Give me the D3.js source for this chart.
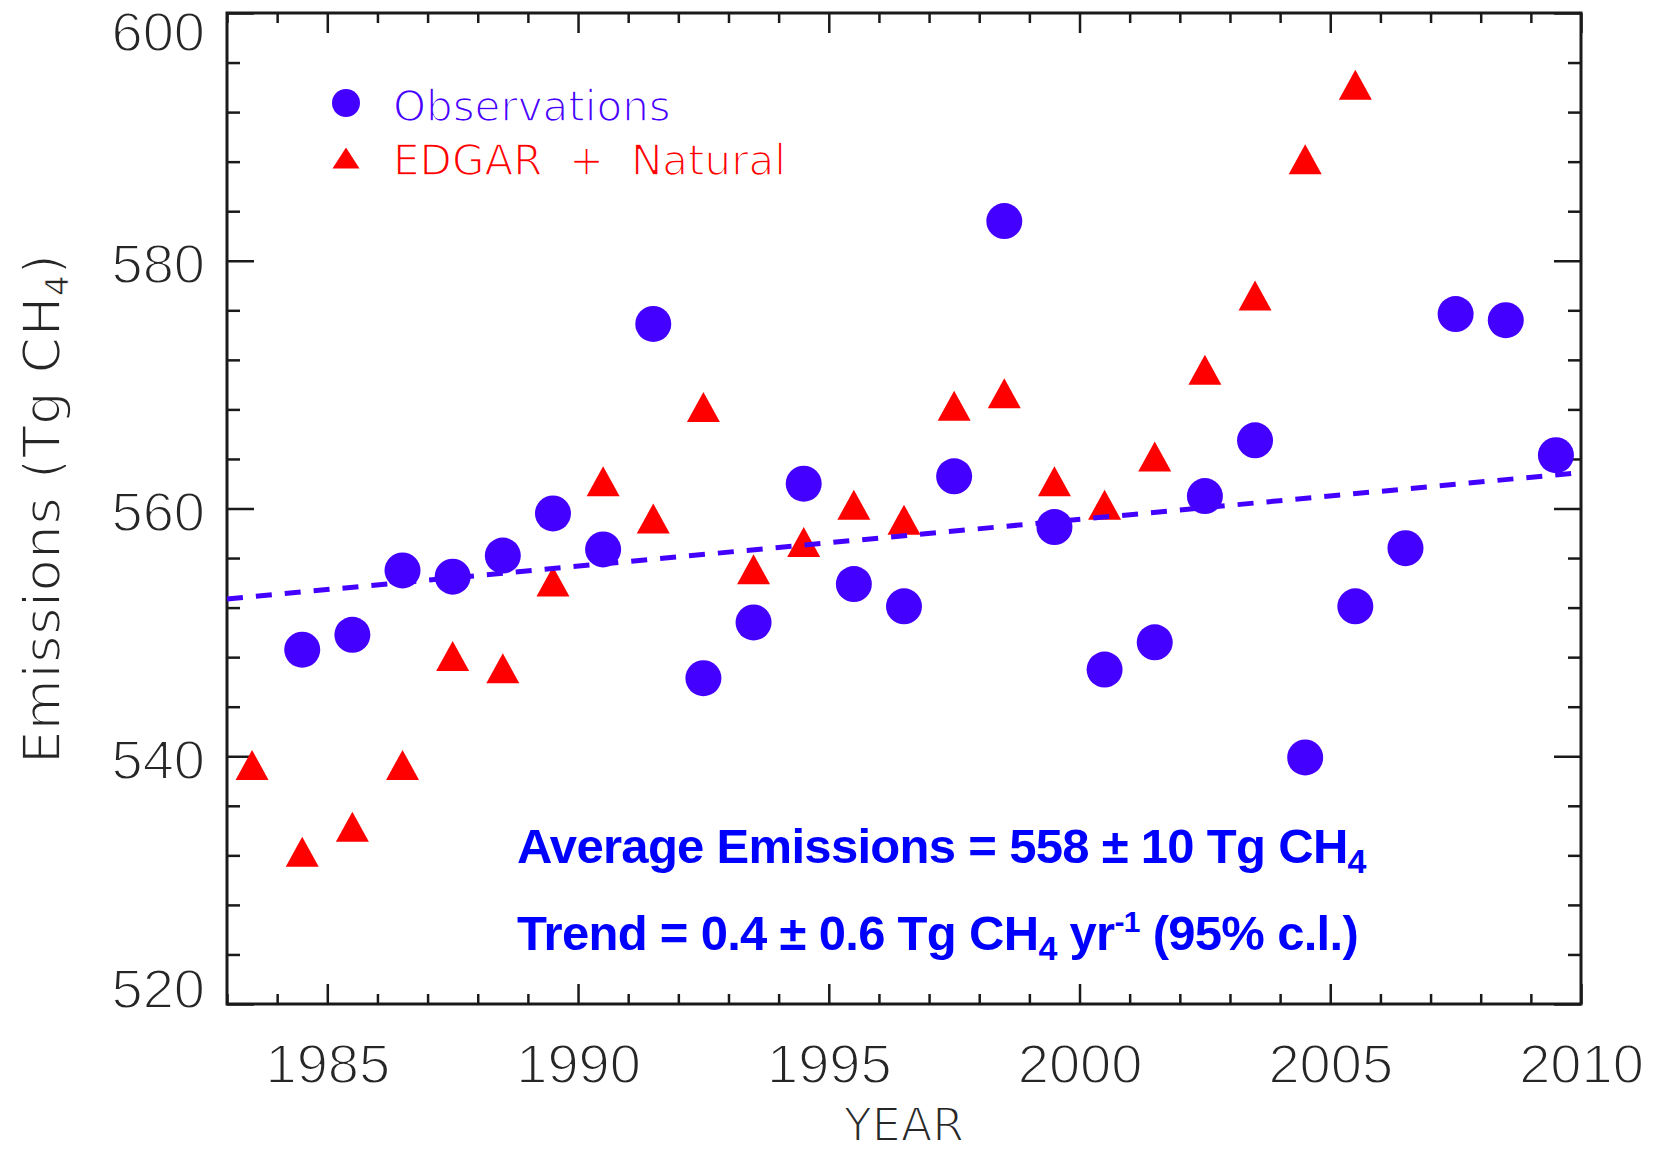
<!DOCTYPE html>
<html>
<head>
<meta charset="utf-8">
<script src="https://cdn.jsdelivr.net/npm/d3@7"></script>
<style>
  html, body { margin: 0; padding: 0; background: #fff; }
  svg { display: block; }
</style>
</head>
<body>
<svg id="chart" width="1658" height="1153"></svg>
<script>
// Annual methane emissions: inversion of observations vs EDGAR + natural sources
const obsYears = [1984.5, 1985.5, 1986.5, 1987.5, 1988.5, 1989.5, 1990.5, 1991.5, 1992.5,
                  1993.5, 1994.5, 1995.5, 1996.5, 1997.5, 1998.5, 1999.5, 2000.5, 2001.5,
                  2002.5, 2003.5, 2004.5, 2005.5, 2006.5, 2007.5, 2008.5, 2009.5];
const obsValues = [548.6, 549.8, 555.0, 554.5, 556.2, 559.6, 556.7, 574.9, 546.3,
                   550.8, 562.0, 553.9, 552.1, 562.6, 583.2, 558.5, 547.0, 549.2,
                   561.0, 565.5, 539.9, 552.1, 556.8, 575.7, 575.2, 564.3];

const edgarYears = [1983.5, 1984.5, 1985.5, 1986.5, 1987.5, 1988.5, 1989.5, 1990.5, 1991.5,
                    1992.5, 1993.5, 1994.5, 1995.5, 1996.5, 1997.5, 1998.5, 1999.5, 2000.5,
                    2001.5, 2002.5, 2003.5, 2004.5, 2005.5];
const edgarValues = [539.3, 532.3, 534.3, 539.3, 548.1, 547.1, 554.1, 562.2, 559.2,
                     568.2, 555.1, 557.3, 560.3, 559.1, 568.3, 569.3, 562.2, 560.3,
                     564.2, 571.2, 577.2, 588.2, 594.2];

// Linear trend of the observations (end points)
const trendYears = [1983, 2010];
const trendValues = [552.7, 562.9];

const xMajorTicks = [1985, 1990, 1995, 2000, 2005, 2010];
const yMajorTicks = [520, 540, 560, 580, 600];

const seriesNames = ["Observations", "EDGAR + Natural"];

const OBS_COLOR = "#4400ff";
const EDGAR_COLOR = "#ff0000";
const TEXT_COLOR = "#0000ff";

const svg = d3.select("#chart");

const plotL = 227, plotR = 1581, plotT = 13, plotB = 1004;
const x = d3.scaleLinear().domain([1983, 2010]).range([plotL, plotR]);
const y = d3.scaleLinear().domain([520, 600]).range([plotB, plotT]);

const xMinor = d3.range(1983, 2011, 1).filter(v => !xMajorTicks.includes(v));
const yMinor = d3.range(520, 601, 4).filter(v => !yMajorTicks.includes(v));

function styleAxis(g) {
  g.select(".domain").remove();
  g.selectAll(".tick line").attr("stroke", "#1a1a1a").attr("stroke-width", 2.5);
}

// bottom axis with labels, ticks pointing inward
const gBottom = svg.append("g").attr("transform", `translate(0,${plotB})`)
  .call(d3.axisBottom(x).tickValues(xMajorTicks).tickSize(-20).tickSizeOuter(0).tickFormat(d3.format("d")))
  .call(styleAxis);
gBottom.selectAll(".tick text")
  .attr("y", 79).attr("dy", null)
  .attr("font-family", "Liberation Sans, Arial, sans-serif")
  .attr("font-size", 56)
  .attr("fill", "#262626")
  .attr("stroke", "#fff").attr("stroke-width", 1.8);

svg.append("g").attr("transform", `translate(0,${plotB})`)
  .call(d3.axisBottom(x).tickValues(xMinor).tickSize(-10).tickSizeOuter(0).tickFormat(""))
  .call(styleAxis);

// top axis (ticks only)
svg.append("g").attr("transform", `translate(0,${plotT})`)
  .call(d3.axisTop(x).tickValues(xMajorTicks).tickSize(-20).tickSizeOuter(0).tickFormat(""))
  .call(styleAxis);
svg.append("g").attr("transform", `translate(0,${plotT})`)
  .call(d3.axisTop(x).tickValues(xMinor).tickSize(-10).tickSizeOuter(0).tickFormat(""))
  .call(styleAxis);

// left axis with labels
const gLeft = svg.append("g").attr("transform", `translate(${plotL},0)`)
  .call(d3.axisLeft(y).tickValues(yMajorTicks).tickSize(-27).tickSizeOuter(0).tickFormat(d3.format("d")))
  .call(styleAxis);
gLeft.selectAll(".tick text")
  .attr("x", -22)
  .attr("dy", null)
  .attr("y", d => {
    // keep the end labels inside the picture
    const base = y(d) + 22;
    return Math.max(50, Math.min(1007, base)) - y(d);
  })
  .attr("text-anchor", "end")
  .attr("font-family", "Liberation Sans, Arial, sans-serif")
  .attr("font-size", 56)
  .attr("fill", "#262626")
  .attr("stroke", "#fff").attr("stroke-width", 1.8);

svg.append("g").attr("transform", `translate(${plotL},0)`)
  .call(d3.axisLeft(y).tickValues(yMinor).tickSize(-13).tickSizeOuter(0).tickFormat(""))
  .call(styleAxis);

// right axis (ticks only)
svg.append("g").attr("transform", `translate(${plotR},0)`)
  .call(d3.axisRight(y).tickValues(yMajorTicks).tickSize(-27).tickSizeOuter(0).tickFormat(""))
  .call(styleAxis);
svg.append("g").attr("transform", `translate(${plotR},0)`)
  .call(d3.axisRight(y).tickValues(yMinor).tickSize(-13).tickSizeOuter(0).tickFormat(""))
  .call(styleAxis);

// plot frame
svg.append("rect")
  .attr("x", plotL).attr("y", plotT)
  .attr("width", plotR - plotL).attr("height", plotB - plotT)
  .attr("fill", "none").attr("stroke", "#1a1a1a").attr("stroke-width", 3);

// axis titles
svg.append("text")
  .attr("x", (plotL + plotR) / 2).attr("y", 1141)
  .attr("text-anchor", "middle")
  .attr("font-family", "DejaVu Sans, sans-serif")
  .attr("font-size", 46)
  .attr("fill", "#262626")
  .attr("stroke", "#fff").attr("stroke-width", 1.8)
  .text("YEAR");

const yTitle = svg.append("text")
  .attr("transform", `translate(60,${(plotT + plotB) / 2}) rotate(-90)`)
  .attr("text-anchor", "middle")
  .attr("font-family", "DejaVu Sans, sans-serif")
  .attr("font-size", 52)
  .attr("letter-spacing", 1)
  .attr("fill", "#262626")
  .attr("stroke", "#fff").attr("stroke-width", 1.8);
yTitle.append("tspan").text("Emissions (Tg CH");
yTitle.append("tspan").attr("font-size", 32).attr("dy", 8).attr("stroke-width", 0.6).text("4");
yTitle.append("tspan").attr("dy", -8).text(")");

// triangle marker path, centred on its bounding box
function triPath(w, h) {
  return `M0,${-h / 2}L${w / 2},${h / 2}L${-w / 2},${h / 2}Z`;
}

const plot = svg.append("g");

// EDGAR + natural
plot.selectAll("path.edgar")
  .data(edgarYears.map((yr, i) => ({ yr, v: edgarValues[i] })))
  .join("path")
  .attr("class", "edgar")
  .attr("d", triPath(33, 30))
  .attr("transform", d => `translate(${x(d.yr)},${y(d.v)})`)
  .attr("fill", EDGAR_COLOR);

// trend line
plot.append("path")
  .datum(trendYears.map((yr, i) => ({ yr, v: trendValues[i] })))
  .attr("d", d3.line().x(d => x(d.yr)).y(d => y(d.v)))
  .attr("fill", "none")
  .attr("stroke", OBS_COLOR)
  .attr("stroke-width", 5)
  .attr("stroke-dasharray", "16,13");

// observations
plot.selectAll("circle.obs")
  .data(obsYears.map((yr, i) => ({ yr, v: obsValues[i] })))
  .join("circle")
  .attr("class", "obs")
  .attr("cx", d => x(d.yr))
  .attr("cy", d => y(d.v))
  .attr("r", 18)
  .attr("fill", OBS_COLOR);

// legend
const legend = svg.append("g");
legend.append("circle").attr("cx", 346).attr("cy", 103).attr("r", 14).attr("fill", OBS_COLOR);
legend.append("path").attr("d", triPath(27, 21)).attr("transform", "translate(346,158)").attr("fill", EDGAR_COLOR);
legend.selectAll("text")
  .data(seriesNames)
  .join("text")
  .attr("x", 393)
  .attr("y", (d, i) => i === 0 ? 121 : 175)
  .attr("font-family", "DejaVu Sans, sans-serif")
  .attr("font-size", 42)
  .attr("xml:space", "preserve")
  .attr("fill", (d, i) => i === 0 ? OBS_COLOR : EDGAR_COLOR)
  .attr("stroke", "#fff").attr("stroke-width", 1.6)
  .text(d => d === "EDGAR + Natural" ? "EDGAR  +  Natural" : d);

// statistics annotation
const noteFont = "Liberation Sans, Arial, sans-serif";
const note1 = svg.append("text")
  .attr("x", 517).attr("y", 863)
  .attr("font-family", noteFont).attr("font-weight", "bold")
  .attr("font-size", 49).attr("letter-spacing", -0.7)
  .attr("fill", TEXT_COLOR);
note1.append("tspan").text("Average Emissions = 558 \u00b1 10 Tg CH");
note1.append("tspan").attr("font-size", 34).attr("dy", 10).text("4");

const note2 = svg.append("text")
  .attr("x", 517).attr("y", 950)
  .attr("font-family", noteFont).attr("font-weight", "bold")
  .attr("font-size", 49).attr("letter-spacing", -0.7)
  .attr("fill", TEXT_COLOR);
note2.append("tspan").text("Trend = 0.4 \u00b1 0.6 Tg CH");
note2.append("tspan").attr("font-size", 34).attr("dy", 10).text("4");
note2.append("tspan").attr("dy", -10).text(" yr");
note2.append("tspan").attr("font-size", 30).attr("dy", -18).text("-1");
note2.append("tspan").attr("dy", 18).text(" (95% c.l.)");
</script>
</body>
</html>
